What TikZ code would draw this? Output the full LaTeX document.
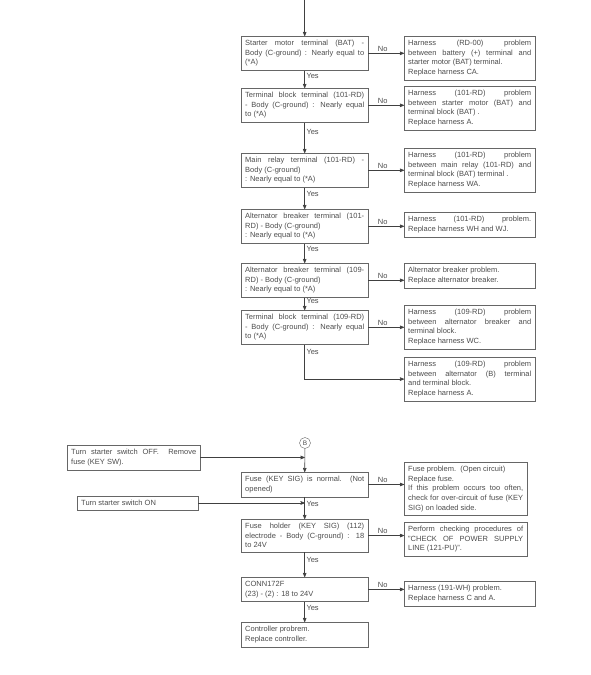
\documentclass[tikz,border=0pt]{standalone}
\usepackage{fontspec}
\setmainfont{Liberation Sans}
\usetikzlibrary{arrows,positioning}

\begin{document}
\begin{tikzpicture}[x=1pt,y=-1pt,->,>=stealth',semithick,draw=black!75]
  \tikzstyle{check}=[rectangle,anchor=north west,
                                    draw=black!60,thin,
                                    text width=119pt,
                                    inner sep=4pt,
                                    align=justify,
                                    text=black!70,
                                    font=\fontsize{7.5}{9.6}\selectfont]
  \tikzstyle{remedy}=[check,text width=123pt]
  \tikzstyle{action}=[check]
  \tikzstyle{answer}=[text=black!70,inner sep=1.5pt,
                                    font=\fontsize{7.5}{9}\selectfont]
  \tikzstyle{connector}=[circle,draw=black!60,thin,inner sep=0pt,
                                    minimum size=11pt,
                                    text=black!70,
                                    font=\fontsize{6.5}{7}\selectfont]
  \useasboundingbox (0,0) rectangle (591,675);
  %Comprobaciones de la primera parte
  \node[check] (S1) [shift={(241,36)}] {Starter motor terminal (BAT) -\linebreak Body (C-ground) : Nearly equal to\linebreak (*A)};
  \node[check] (S2) [shift={(241,88)}] {Terminal block terminal (101-RD)\linebreak - Body (C-ground) : Nearly equal\linebreak to (*A)};
  \node[check] (S3) [shift={(241,153)}] {Main relay terminal (101-RD) -\linebreak Body (C-ground)\\ : Nearly equal to (*A)};
  \node[check] (S4) [shift={(241,209)}] {Alternator breaker terminal (101-\linebreak RD) - Body (C-ground)\\ \ : Nearly equal to (*A)};
  \node[check] (S5) [shift={(241,263)}] {Alternator breaker terminal (109-\linebreak RD) - Body (C-ground)\\ : Nearly equal to (*A)};
  \node[check] (S6) [shift={(241,310)}] {Terminal block terminal (109-RD)\linebreak - Body (C-ground) : Nearly equal\linebreak to (*A)};
  %Resultados de la primera parte
  \node[remedy] (R1) [shift={(404,36)}] {Harness (RD-00) problem\linebreak between battery (+) terminal and\linebreak starter motor (BAT) terminal.\\ Replace harness CA.};
  \node[remedy] (R2) [shift={(404,86)}] {Harness (101-RD) problem\linebreak between starter motor (BAT) and\linebreak terminal block (BAT) .\\ Replace harness A.};
  \node[remedy] (R3) [shift={(404,148)}] {Harness (101-RD) problem\linebreak between main relay (101-RD) and\linebreak terminal block (BAT) terminal .\\ Replace harness WA.};
  \node[remedy] (R4) [shift={(404,212)}] {Harness (101-RD) problem.\linebreak Replace harness WH and WJ.};
  \node[remedy] (R5) [shift={(404,263)}] {Alternator breaker problem.\\ Replace alternator breaker.};
  \node[remedy] (R6) [shift={(404,305)}] {Harness (109-RD) problem\linebreak between alternator breaker and\linebreak terminal block.\\ Replace harness WC.};
  \node[remedy] (R7) [shift={(404,357)}] {Harness (109-RD) problem\linebreak between alternator (B) terminal\linebreak and terminal block.\\ Replace harness A.};
  %Segunda parte
  \node[connector] (B) [shift={(305,443)}] {B};
  \node[action,text width=125pt] (OFF) [shift={(67,445)}] {Turn starter switch OFF.\ \ Remove\linebreak fuse (KEY SW).};
  \node[action,text width=113pt] (ON) [shift={(77,496)}] {Turn starter switch ON};
  \node[check] (F1) [shift={(241,472)}] {Fuse (KEY SIG) is normal.\ \ (Not\linebreak opened)};
  \node[check] (F2) [shift={(241,519)}] {Fuse holder (KEY SIG) (112)\linebreak electrode - Body (C-ground) : 18\linebreak to 24V};
  \node[check] (C1) [shift={(241,577)}] {CONN172F\\ (23) - (2) : 18 to 24V};
  \node[check] (C2) [shift={(241,622)}] {Controller probrem.\\ Replace controller.};
  \node[remedy,text width=115pt] (RF1) [shift={(404,462)}] {Fuse problem.\ \ (Open circuit)\\ Replace fuse.\\ If this problem occurs too often,\linebreak check for over-circuit of fuse (KEY\linebreak SIG) on loaded side.};
  \node[remedy,text width=115pt] (RF2) [shift={(404,522)}] {Perform checking procedures of\linebreak "CHECK OF POWER SUPPLY\linebreak LINE (121-PU)".};
  \node[remedy] (RC1) [shift={(404,581)}] {Harness (191-WH) problem.\\ Replace harness C and A.};
  %Flechas
  \coordinate (start) at (S1.north |- 0,0);
  \draw (start) -- (S1.north);
  \foreach \a/\b in {S1/S2,S2/S3,S3/S4,S4/S5,S5/S6,F2/C1,C1/C2}
    \draw (\a.south) -- node[answer,pos=0.3,right] {Yes} (\b.north);
  \foreach \a/\b in {S1/R1,S2/R2,S3/R3,S4/R4,S5/R5,S6/R6,F1/RF1,F2/RF2,C1/RC1}
    \draw (\a.east) -- node[answer,pos=0.4,above] {No} (\a.east -| \b.west);
  \draw (S6.south) |- node[answer,pos=0.1,right] {Yes} (R7.west);
  \draw (B) -- (F1.north);
  \draw (OFF.east) -- (OFF.east -| F1.north);
  \draw (F1.south) -- node[answer,pos=0.3,right] {Yes} (F2.north);
  \draw (ON.east) -- (ON.east -| F2.north);
\end{tikzpicture}
\end{document}
